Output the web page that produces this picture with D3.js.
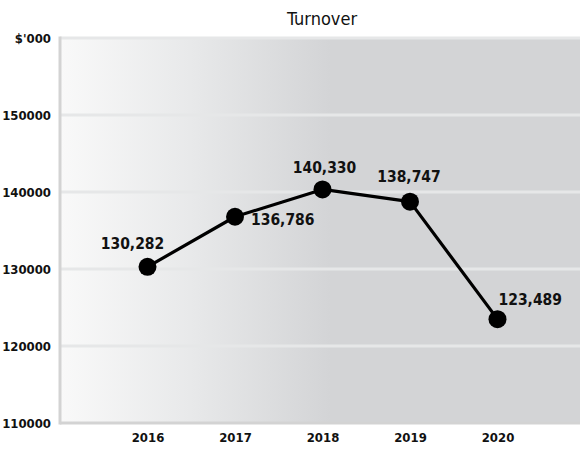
<!DOCTYPE html>
<html>
<head>
<meta charset="utf-8">
<script src="https://cdn.jsdelivr.net/npm/d3@7"></script>
<style>
  html, body { margin: 0; padding: 0; background: #fff; }
  svg { display: block; }
  text {
    font-family: "DejaVu Sans Condensed", "DejaVu Sans", sans-serif;
    font-stretch: condensed;
    fill: #111;
  }
</style>
</head>
<body>
<svg id="chart" width="580" height="450"></svg>
<script>
// Turnover by year, in $'000
const years = ["2016", "2017", "2018", "2019", "2020"];
const turnover = [130282, 136786, 140330, 138747, 123489];
const valueLabels = ["130,282", "136,786", "140,330", "138,747", "123,489"];
const yTicks = [110000, 120000, 130000, 140000, 150000, 160000];
const yTickLabels = ["110000", "120000", "130000", "140000", "150000", "$'000"];
const chartTitle = "Turnover";

// Where each value label sits relative to its point
const labelPlacement = [
  { dx: -15, dy: -18, anchor: "middle" },
  { dx: 16, dy: 8, anchor: "start" },
  { dx: 2, dy: -16, anchor: "middle" },
  { dx: -1, dy: -20, anchor: "middle" },
  { dx: 1, dy: -14, anchor: "start" }
];

const plot = { left: 60, right: 580, top: 38, bottom: 423 };

const svg = d3.select("#chart");

const x = d3.scalePoint()
  .domain(years)
  .range([plot.left, plot.right + 5])
  .padding(1);

const y = d3.scaleLinear()
  .domain([110000, 160000])
  .range([plot.bottom, plot.top]);

// Background: light-to-grey horizontal gradient
const defs = svg.append("defs");
const grad = defs.append("linearGradient")
  .attr("id", "bg")
  .attr("gradientUnits", "userSpaceOnUse")
  .attr("x1", plot.left).attr("x2", plot.right)
  .attr("y1", 0).attr("y2", 0);
grad.append("stop").attr("offset", "0%").attr("stop-color", "#f9f9f9");
grad.append("stop").attr("offset", "25%").attr("stop-color", "#e8e9ea");
grad.append("stop").attr("offset", "52%").attr("stop-color", "#d3d4d6");
grad.append("stop").attr("offset", "100%").attr("stop-color", "#d3d4d6");

svg.append("rect")
  .attr("x", plot.left).attr("y", plot.top)
  .attr("width", plot.right - plot.left)
  .attr("height", plot.bottom - plot.top)
  .attr("fill", "url(#bg)");

// Horizontal gridlines
svg.append("g")
  .selectAll("line")
  .data(yTicks.filter(d => d > 110000))
  .join("line")
  .attr("x1", plot.left).attr("x2", plot.right)
  .attr("y1", d => y(d)).attr("y2", d => y(d))
  .attr("stroke", "#e6e7e8")
  .attr("stroke-width", 3);

// Axis frame lines (left and bottom)
svg.append("line")
  .attr("x1", plot.left).attr("x2", plot.left)
  .attr("y1", plot.top - 1.5).attr("y2", plot.bottom + 1.5)
  .attr("stroke", "#d3d3d3").attr("stroke-width", 3);
svg.append("line")
  .attr("x1", plot.left).attr("x2", plot.right)
  .attr("y1", plot.bottom).attr("y2", plot.bottom)
  .attr("stroke", "#d3d3d3").attr("stroke-width", 3);

// Y axis labels
const yAxis = d3.axisLeft(y)
  .tickValues(yTicks)
  .tickSize(0)
  .tickPadding(9)
  .tickFormat((d, i) => yTickLabels[i]);
const gy = svg.append("g")
  .attr("transform", `translate(${plot.left},0)`)
  .call(yAxis)
  .attr("font-family", null);
gy.select(".domain").remove();
gy.selectAll("text")
  .attr("font-size", 13)
  .attr("font-weight", "bold")
  .attr("fill", "#111");

// X axis labels
const xAxis = d3.axisBottom(x).tickSize(0).tickPadding(10);
const gx = svg.append("g")
  .attr("transform", `translate(0,${plot.bottom})`)
  .call(xAxis)
  .attr("font-family", null);
gx.select(".domain").remove();
gx.selectAll("text")
  .attr("font-size", 13)
  .attr("font-weight", "bold")
  .attr("fill", "#111");

// Title
svg.append("text")
  .attr("x", 322).attr("y", 25)
  .attr("text-anchor", "middle")
  .attr("font-size", 18)
  .text(chartTitle);

// Line
const points = years.map((yr, i) => ({ year: yr, value: turnover[i], label: valueLabels[i], place: labelPlacement[i] }));
const line = d3.line().x(d => x(d.year)).y(d => y(d.value));
svg.append("path")
  .datum(points)
  .attr("d", line)
  .attr("fill", "none")
  .attr("stroke", "#000")
  .attr("stroke-width", 3.2)
  .attr("stroke-linejoin", "round");

// Markers
svg.append("g")
  .selectAll("circle")
  .data(points)
  .join("circle")
  .attr("cx", d => x(d.year))
  .attr("cy", d => y(d.value))
  .attr("r", 9)
  .attr("fill", "#000");

// Value labels
svg.append("g")
  .selectAll("text")
  .data(points)
  .join("text")
  .attr("x", d => x(d.year) + d.place.dx)
  .attr("y", d => y(d.value) + d.place.dy)
  .attr("text-anchor", d => d.place.anchor)
  .attr("font-size", 15.5)
  .attr("font-weight", "bold")
  .text(d => d.label);
</script>
</body>
</html>
